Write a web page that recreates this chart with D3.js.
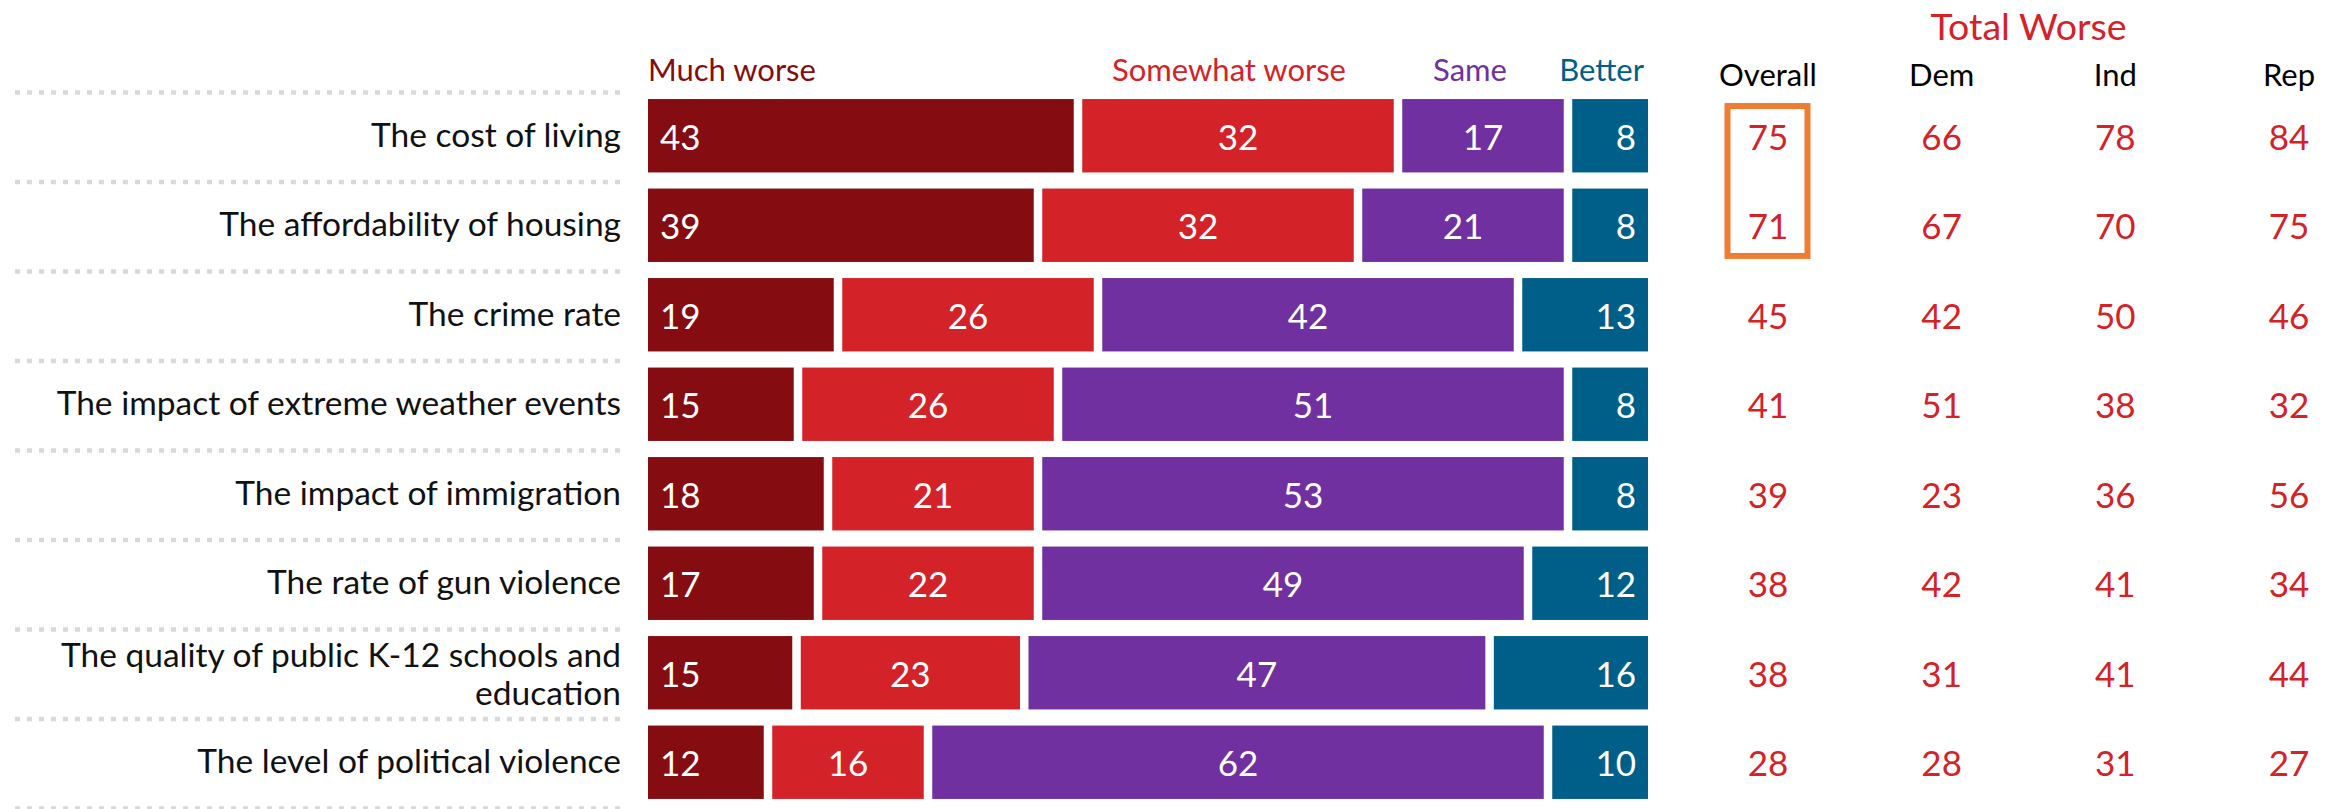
<!DOCTYPE html>
<html>
<head>
<meta charset="utf-8">
<script src="https://cdn.jsdelivr.net/npm/d3@7"></script>
<style>
  body { margin: 0; background: #fff; }
  svg { display: block; font-family: Lato, "Noto Sans", sans-serif; }
</style>
</head>
<body>
<svg id="chart"></svg>
<script>
const width = 2344;
const height = 809;

// data
const categories = [
  'The cost of living',
  'The affordability of housing',
  'The crime rate',
  'The impact of extreme weather events',
  'The impact of immigration',
  'The rate of gun violence',
  'The quality of public K-12 schools and education',
  'The level of political violence'
];
const seriesNames = ['Much worse', 'Somewhat worse', 'Same', 'Better'];
const muchWorse     = [43, 39, 19, 15, 18, 17, 15, 12];
const somewhatWorse = [32, 32, 26, 26, 21, 22, 23, 16];
const same          = [17, 21, 42, 51, 53, 49, 47, 62];
const better        = [ 8,  8, 13,  8,  8, 12, 16, 10];

const tableColumns = ['Overall', 'Dem', 'Ind', 'Rep'];
const overall = [75, 71, 45, 41, 39, 38, 38, 28];
const dem     = [66, 67, 42, 51, 23, 42, 31, 28];
const ind     = [78, 70, 50, 38, 36, 41, 41, 31];
const rep     = [84, 75, 46, 32, 56, 34, 44, 27];

const colors = ['#850c10', '#d42229', '#7030a0', '#005f88'];
const red = '#d42229';

const svg = d3.select('#chart').attr('width', width).attr('height', height);

const x = d3.scaleLinear().domain([0, 100]).range([648, 1648]);
const y = d3.scaleBand().domain(categories).range([91, 807]).paddingInner(0.18).paddingOuter(0.09);
const col = d3.scalePoint().domain(tableColumns).range([1768, 2289]);
const gap = 8.5;
const labelRight = 621;

const seriesVals = [muchWorse, somewhatWorse, same, better];

// stack rows, normalised to the row total (one row adds to 101)
const rows = categories.map((c, i) => {
  const vals = seriesVals.map(s => s[i]);
  const total = d3.sum(vals);
  let cum = 0;
  const segs = vals.map((v, k) => {
    const s = {cat: c, k: k, value: v, x0: cum / total * 100, x1: (cum + v) / total * 100};
    cum += v;
    return s;
  });
  return {cat: c, segs: segs};
});

// dotted separators
svg.append('g').selectAll('line')
  .data(categories.concat(['end']))
  .join('line')
  .attr('x1', 15).attr('x2', 622)
  .attr('y1', (d, i) => y.range()[0] + i * y.step() + 1.5)
  .attr('y2', (d, i) => y.range()[0] + i * y.step() + 1.5)
  .attr('stroke', '#d9d9d9')
  .attr('stroke-width', 4.5)
  .attr('stroke-dasharray', '5,7');

// row labels, wrapped
const labelG = svg.append('g');
categories.forEach(c => {
  const t = labelG.append('text')
    .attr('x', labelRight)
    .attr('text-anchor', 'end')
    .attr('font-size', 33.5)
    .attr('fill', '#111');
  const words = c.split(' ');
  let lines = [];
  let line = [];
  const probe = t.append('tspan');
  words.forEach(w => {
    line.push(w);
    probe.text(line.join(' '));
    if (probe.node().getComputedTextLength() > 640 && line.length > 1) {
      line.pop();
      lines.push(line.join(' '));
      line = [w];
    }
  });
  lines.push(line.join(' '));
  probe.remove();
  const mid = y(c) + y.bandwidth() / 2;
  lines.forEach((l, j) => {
    t.append('tspan')
      .attr('x', labelRight)
      .attr('y', mid + 11 - (lines.length - 1) * 18.5 + j * 37.3 + (lines.length > 1 ? 2 : 0))
      .text(l);
  });
});

// bars
const barG = svg.append('g');
rows.forEach(r => {
  const g = barG.append('g');
  g.selectAll('rect')
    .data(r.segs)
    .join('rect')
    .attr('x', d => x(d.x0) + (d.k > 0 ? gap / 2 : 0))
    .attr('width', d => x(d.x1) - x(d.x0) - (d.k > 0 ? gap / 2 : 0) - (d.k < 3 ? gap / 2 : 0))
    .attr('y', y(r.cat))
    .attr('height', y.bandwidth())
    .attr('fill', d => colors[d.k]);

  g.selectAll('text')
    .data(r.segs)
    .join('text')
    .attr('x', d => d.k === 0 ? x(d.x0) + 12 : d.k === 3 ? x(d.x1) - 12 : (x(d.x0) + x(d.x1)) / 2)
    .attr('y', y(r.cat) + y.bandwidth() / 2 + 14)
    .attr('text-anchor', d => d.k === 0 ? 'start' : d.k === 3 ? 'end' : 'middle')
    .attr('font-size', 35)
    .attr('fill', '#fff')
    .text(d => d.value);
});

// legend headers over the bars
const headerX = [x(0), 1229, 1470, x(100) - 4];
const headerAnchor = ['start', 'middle', 'middle', 'end'];
svg.append('g').selectAll('text')
  .data(seriesNames)
  .join('text')
  .attr('x', (d, i) => headerX[i])
  .attr('y', 81)
  .attr('text-anchor', (d, i) => headerAnchor[i])
  .attr('font-size', 31)
  .attr('fill', (d, i) => colors[i])
  .text(d => d);

// Total Worse table
svg.append('text')
  .attr('x', (col('Dem') + col('Ind')) / 2)
  .attr('y', 40)
  .attr('text-anchor', 'middle')
  .attr('font-size', 37.5)
  .attr('fill', red)
  .text('Total Worse');

svg.append('g').selectAll('text')
  .data(tableColumns)
  .join('text')
  .attr('x', d => col(d))
  .attr('y', 86)
  .attr('text-anchor', 'middle')
  .attr('font-size', 31)
  .attr('fill', '#000')
  .text(d => d);

const tableVals = [overall, dem, ind, rep];
tableColumns.forEach((c, ci) => {
  svg.append('g').selectAll('text')
    .data(categories)
    .join('text')
    .attr('x', col(c))
    .attr('y', d => y(d) + y.bandwidth() / 2 + 14)
    .attr('text-anchor', 'middle')
    .attr('font-size', 35)
    .attr('fill', red)
    .text((d, i) => tableVals[ci][i]);
});

// highlight box round the first two Overall values
svg.append('rect')
  .attr('x', col('Overall') - 40.5)
  .attr('y', y(categories[0]) + 7)
  .attr('width', 80)
  .attr('height', y(categories[1]) + y.bandwidth() - 6 - y(categories[0]) - 7)
  .attr('fill', 'none')
  .attr('stroke', '#ef7d31')
  .attr('stroke-width', 6);
</script>
</body>
</html>
